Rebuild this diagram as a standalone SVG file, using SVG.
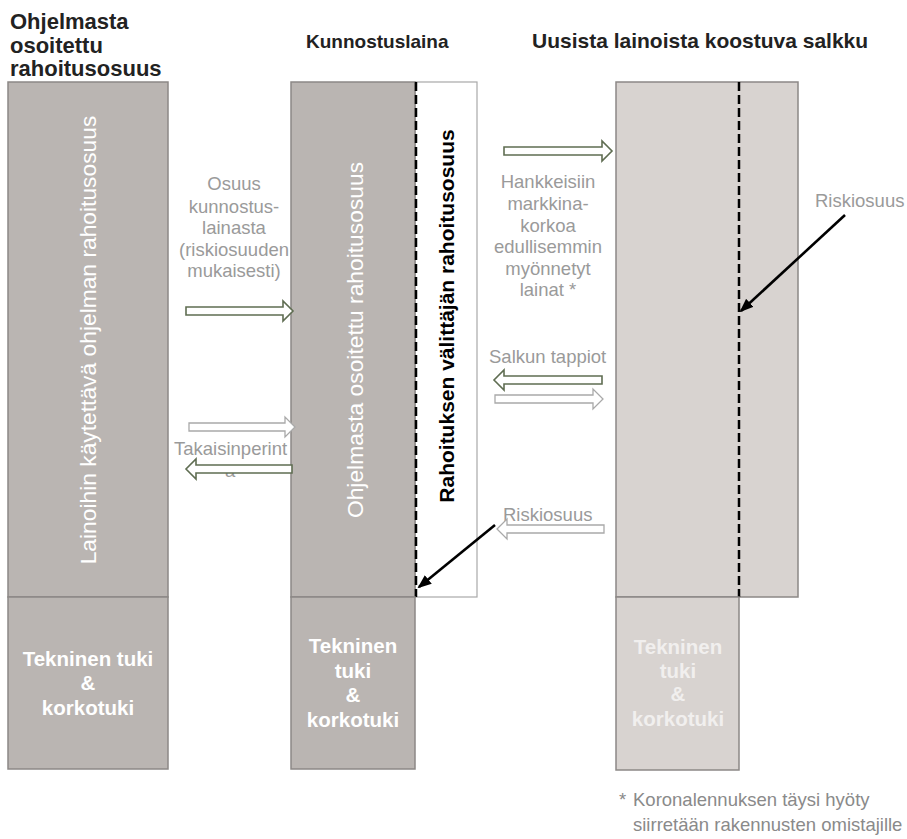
<svg xmlns="http://www.w3.org/2000/svg" width="907" height="839" viewBox="0 0 907 839">
  <style>
    .hdr { font-family: "Liberation Sans", Arial, sans-serif; font-weight: bold; fill: #222; }
    .lbl { font-family: "Liberation Sans", Arial, sans-serif; font-size: 18.5px; fill: #9a9a9a; }
    .vert { font-family: "Liberation Sans", Arial, sans-serif; font-size: 22.8px; fill: #ffffff; text-anchor: middle; }
    .vertb { font-family: "Liberation Sans", Arial, sans-serif; font-size: 21px; font-weight: bold; fill: #000; text-anchor: middle; }
    .sup { font-family: "Liberation Sans", Arial, sans-serif; font-size: 20.5px; font-weight: bold; fill: #ffffff; text-anchor: middle; }
    .supl { font-family: "Liberation Sans", Arial, sans-serif; font-size: 20.5px; font-weight: bold; fill: #f1efee; text-anchor: middle; }
    .note { font-family: "Liberation Sans", Arial, sans-serif; font-size: 18.5px; fill: #8a8a8a; }
    .dark { fill: #bab5b2; stroke: #8c8886; stroke-width: 1.5; }
    .light { fill: #d8d3d0; stroke: #8c8886; stroke-width: 1.5; }
    .white { fill: #ffffff; stroke: #a8a8a8; stroke-width: 1.2; }
    .dash { stroke: #000; stroke-width: 2.5; stroke-dasharray: 9 4; fill: none; }
    .barr { fill: #ffffff; stroke: #5f6d52; stroke-width: 1.6; }
    .barrl { fill: #ffffff; stroke: #a9a9a9; stroke-width: 1.3; }
    .blk { stroke: #000; stroke-width: 2.6; fill: none; marker-end: url(#ah); }
  </style>
  <defs>
    <marker id="ah" markerWidth="14" markerHeight="11" refX="12" refY="5.5" orient="auto" markerUnits="userSpaceOnUse">
      <path d="M0,0 L14,5.5 L0,11 Z" fill="#000"/>
    </marker>
  </defs>
  <rect width="907" height="839" fill="#ffffff"/>

  <g id="headers">
    <text class="hdr" font-size="22" x="10" y="29">Ohjelmasta</text>
    <text class="hdr" font-size="22" x="10" y="53">osoitettu</text>
    <text class="hdr" font-size="22" x="10" y="76">rahoitusosuus</text>
    <text class="hdr" font-size="19" x="306" y="48">Kunnostuslaina</text>
    <text class="hdr" font-size="21" x="532" y="48">Uusista lainoista koostuva salkku</text>
  </g>

  <g id="col-left">
    <rect class="dark" x="8" y="82" width="160" height="515"/>
    <text class="vert" transform="translate(96,340) rotate(-90)">Lainoihin käytettävä ohjelman rahoitusosuus</text>
  </g>
  <g id="col-left-bottom">
    <rect class="dark" x="8" y="597" width="160" height="172"/>
    <text class="sup" x="88" y="666">Tekninen tuki</text>
    <text class="sup" x="88" y="690">&amp;</text>
    <text class="sup" x="88" y="715">korkotuki</text>
  </g>

  <g id="col-mid">
    <rect class="white" x="415" y="82" width="62" height="515"/>
    <rect class="dark" x="291" y="82" width="124" height="515"/>
    <text class="vert" transform="translate(363,340) rotate(-90)">Ohjelmasta osoitettu rahoitusosuus</text>
    <text class="vertb" transform="translate(454,316) rotate(-90)">Rahoituksen välittäjän rahoitusosuus</text>
    <line class="dash" x1="416" y1="82" x2="416" y2="597"/>
  </g>
  <g id="col-mid-bottom">
    <rect class="dark" x="291" y="597" width="124" height="172"/>
    <text class="sup" x="353" y="653">Tekninen</text>
    <text class="sup" x="353" y="678">tuki</text>
    <text class="sup" x="353" y="702">&amp;</text>
    <text class="sup" x="353" y="727">korkotuki</text>
  </g>

  <g id="col-right">
    <rect class="light" x="616" y="82" width="182" height="515"/>
    <line class="dash" x1="739" y1="82" x2="739" y2="597"/>
  </g>
  <g id="col-right-bottom">
    <rect class="light" x="616" y="597" width="123" height="173"/>
    <text class="supl" x="678" y="654">Tekninen</text>
    <text class="supl" x="678" y="678">tuki</text>
    <text class="supl" x="678" y="701">&amp;</text>
    <text class="supl" x="678" y="726">korkotuki</text>
  </g>

  <g id="labels">
    <text class="lbl" text-anchor="middle" x="234" y="190">Osuus</text>
    <text class="lbl" text-anchor="middle" x="234" y="213">kunnostus-</text>
    <text class="lbl" text-anchor="middle" x="234" y="234">lainasta</text>
    <text class="lbl" text-anchor="middle" x="234" y="256">(riskiosuuden</text>
    <text class="lbl" text-anchor="middle" x="234" y="277">mukaisesti)</text>

    <text class="lbl" x="174" y="455">Takaisinperint</text>
    <text class="lbl" x="225" y="477">a</text>

    <text class="lbl" text-anchor="middle" x="548" y="188">Hankkeisiin</text>
    <text class="lbl" text-anchor="middle" x="548" y="210">markkina-</text>
    <text class="lbl" text-anchor="middle" x="548" y="232">korkoa</text>
    <text class="lbl" text-anchor="middle" x="548" y="253">edullisemmin</text>
    <text class="lbl" text-anchor="middle" x="548" y="275">myönnetyt</text>
    <text class="lbl" text-anchor="middle" x="548" y="296">lainat *</text>

    <text class="lbl" x="489" y="363">Salkun tappiot</text>
    <text class="lbl" x="815" y="207">Riskiosuus</text>
    <text class="lbl" x="503" y="521">Riskiosuus</text>
  </g>

  <g id="connectors">
    <path class="barr" d="M186,307 H283 V301 L293,311 L283,321 V315 H186 Z"/>
    <path class="barrl" d="M189,423 H285 V417 L295,427 L285,437 V431 H189 Z"/>
    <path class="barr" d="M292,465 H196 V459 L186,469 L196,479 V473 H292 Z"/>
    <path class="barr" d="M504,147 H602 V141 L612,151 L602,161 V155 H504 Z"/>
    <path class="barr" d="M602,376 H504 V370 L494,380 L504,390 V384 H602 Z"/>
    <path class="barrl" d="M495,395 H593 V389 L603,399 L593,409 V403 H495 Z"/>
    <path class="barrl" d="M604,525 H507 V519 L497,529 L507,539 V533 H604 Z"/>
    <line class="blk" x1="845" y1="215" x2="741" y2="311"/>
    <line class="blk" x1="495" y1="525" x2="419" y2="587"/>
  </g>

  <g id="footnote">
    <text class="note" x="619" y="806">*</text>
    <text class="note" x="633" y="806">Koronalennuksen täysi hyöty</text>
    <text class="note" x="633" y="831">siirretään rakennusten omistajille</text>
  </g>
</svg>
